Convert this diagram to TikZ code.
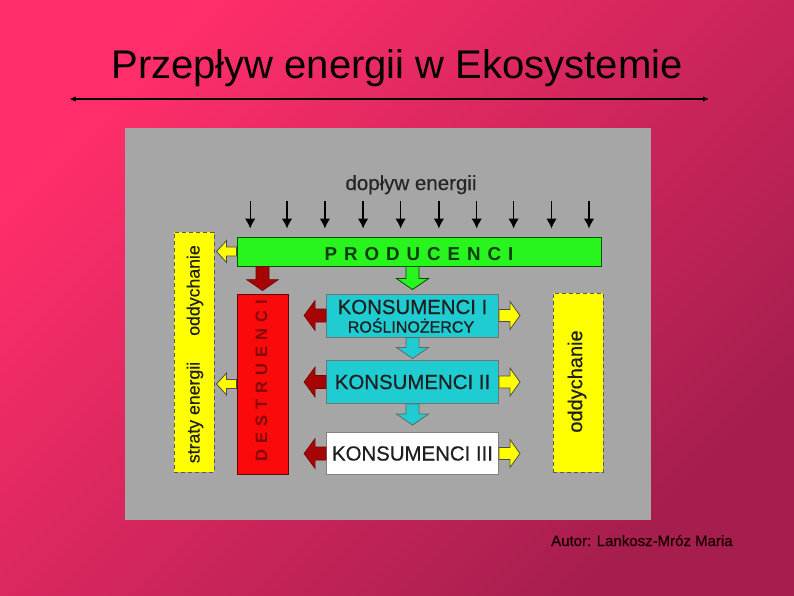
\documentclass[tikz,border=0pt]{standalone}
\usepackage{fontspec}
\setmainfont{Liberation Sans}
\usetikzlibrary{calc,arrows.meta}
\definecolor{bgA}{RGB}{255,46,106}
\definecolor{bgB}{RGB}{165,30,78}
\definecolor{panelgray}{RGB}{166,166,166}
\definecolor{prodgreen}{RGB}{40,245,30}
\definecolor{kcyan}{RGB}{30,204,210}
\definecolor{dred}{RGB}{250,10,10}
\definecolor{arrred}{RGB}{165,5,5}
\definecolor{yel}{RGB}{255,255,0}
\definecolor{txtgreen}{RGB}{10,60,10}
\definecolor{txtred}{RGB}{130,10,10}
\newcommand\fsz[1]{\fontsize{#1}{#1}\selectfont}
\newcommand\fb[1]{\addfontfeature{FakeBold=#1}}
% block arrow: style, start, end, shaft half width, head half width, head length
\newcommand\blockarrow[6]{%
  \path (#2) coordinate (ba-s) (#3) coordinate (ba-e);
  \path ($(ba-e)!#6!(ba-s)$) coordinate (ba-h);
  \draw[#1] ($(ba-s)!#4!90:(ba-e)$) -- ($(ba-h)!#4!90:(ba-e)$) -- ($(ba-h)!#5!90:(ba-e)$)
    -- (ba-e) -- ($(ba-h)!#5!-90:(ba-e)$) -- ($(ba-h)!#4!-90:(ba-e)$) -- ($(ba-s)!#4!-90:(ba-e)$) -- cycle;
}
\tikzset{
  box/.style={draw, line width=0.9pt, inner sep=0pt},
  ybox/.style={box, fill=yel, draw=black!65, dash pattern=on 4pt off 3pt, line width=1pt},
  kbox/.style={box, fill=kcyan, draw=black!55, minimum width=172pt, font=\fsz{20.4}\fb{0.6}, text=black!88},
  redarrow/.style={fill=arrred, draw=arrred!70!black, line width=0.6pt},
  yelarrow/.style={fill=yel, draw=black!70, line width=0.8pt},
  grnarrow/.style={fill=prodgreen, draw=green!30!black, line width=0.8pt},
  cyanarrow/.style={fill=kcyan, draw=black!60, line width=0.8pt},
  inarrow/.style={line width=1.3pt, -{Latex[length=10pt,width=10.5pt]}},
}
\begin{document}
\begin{tikzpicture}[x=1pt,y=-1pt]
\shade[top color=bgA,bottom color=bgB,shading angle=45] (0,0) rectangle (794,595);
\useasboundingbox (0,0) rectangle (794,595);
\node[anchor=base, font=\fsz{40}, text=black] (title) at (397,78) {Przepływ energii w Ekosystemie};
\coordinate (tl) at (69.5,99);
\coordinate (tr) at (709,99);
\draw[line width=1.7pt, {Latex[length=6pt,width=5.5pt]}-{Latex[length=6pt,width=5.5pt]}] (tl) -- (tr);

\node[fill=panelgray, minimum width=526pt, minimum height=392pt, inner sep=0pt, anchor=north west] (panel) at (125,128) {};

\node[anchor=base, font=\fsz{20.5}\fb{0.3}, text=black!85] (dop) at (411,190) {dopływ energii};

% boxes
\node[box, fill=prodgreen, draw=green!35!black, minimum width=364pt, minimum height=29pt] (prod) at (419,251.5) {};
\node[font=\fsz{18.7}\bfseries, text=txtgreen, inner sep=0pt] (prodt) at (419,254) {P\kern7pt R\kern7pt O\kern7pt D\kern7pt U\kern7pt C\kern7pt E\kern7pt N\kern7pt C\kern7pt I};

\node[box, fill=dred, draw=arrred!60!black, minimum width=51pt, minimum height=180pt] (dest) at (262.5,384) {};
\node[rotate=90, font=\fsz{16.5}\bfseries, text=txtred, inner sep=0pt] (destt) at (261.5,381) {D\kern6pt E\kern6pt S\kern6pt T\kern6pt R\kern6pt U\kern6pt E\kern6pt N\kern6pt C\kern6pt I};

\node[kbox, minimum height=43pt] (k1) at (412.5,315.5) {};
\node[anchor=base, font=\fsz{20.4}\fb{0.6}, text=black!88, inner sep=0pt] (k1t) at (412.5,314) {KONSUMENCI I};
\node[anchor=base, font=\fsz{16}\fb{0.6}, text=black!88, inner sep=0pt] (k1s) at (411,332.5) {ROŚLINOŻERCY};
\node[kbox, minimum height=43pt] (k2) at (412.5,382) {KONSUMENCI II};
\node[kbox, fill=white, draw=black!50, minimum height=42pt] (k3) at (412.5,453.5) {KONSUMENCI III};

\node[ybox, minimum width=40pt, minimum height=240pt] (yl) at (194,352) {};
\node[rotate=90, font=\fsz{17.7}\fb{0.4}, text=black!88, inner sep=0pt] (ylt1) at (195,290.5) {oddychanie};
\node[rotate=90, font=\fsz{17.7}\fb{0.4}, text=black!88, inner sep=0pt] (ylt2) at (195,412.5) {straty energii};
\node[ybox, minimum width=50pt, minimum height=179pt] (yr) at (578,382.5) {};
\node[rotate=90, font=\fsz{20}\fb{0.4}, text=black!88, inner sep=0pt] (yrt) at (577,381.5) {oddychanie};

% energy input arrows
\foreach \i/\x in {1/250.2,2/287,3/324.9,4/363.1,5/400.6,6/438.9,7/476.7,8/513.6,9/551.5,10/589}{
  \coordinate (in\i) at (\x,201);
  \draw[inarrow] (in\i) -- ($(in\i |- prod.north)+(0,-8)$);
}

% block arrows
\blockarrow{redarrow}{prod.south -| dest.north}{$(dest.north)+(0,-3)$}{6.5pt}{16pt}{11pt}
\blockarrow{grnarrow}{prod.south -| k1.north}{$(k1.north)+(0,-4)$}{6.5pt}{16pt}{11pt}
\blockarrow{cyanarrow}{k1.south}{$(k2.north)+(0,-1.5)$}{6.5pt}{16pt}{11pt}
\blockarrow{cyanarrow}{k2.south}{$(k3.north)+(0,-7)$}{6.5pt}{16pt}{11pt}

\foreach \k in {k1,k2,k3}{
  \coordinate (rl-\k) at ($(\k.west)+(-22,0)$);
  \coordinate (yr-\k) at ($(\k.east)+(21,0)$);
}
\blockarrow{redarrow}{k1.west}{rl-k1}{6.5pt}{15pt}{11pt}
\blockarrow{redarrow}{k2.west}{rl-k2}{6.5pt}{15pt}{11pt}
\blockarrow{redarrow}{k3.west}{rl-k3}{6.5pt}{15pt}{11pt}
\blockarrow{yelarrow}{k1.east}{yr-k1}{6pt}{14pt}{10pt}
\blockarrow{yelarrow}{k2.east}{yr-k2}{6pt}{14pt}{10pt}
\blockarrow{yelarrow}{k3.east}{yr-k3}{6pt}{14pt}{10pt}

\coordinate (yl-p) at ($(prod.west)+(-20,0)$);
\coordinate (yl-d) at ($(dest.west)+(-20,0)$);
\blockarrow{yelarrow}{prod.west}{yl-p}{4.5pt}{11pt}{10pt}
\blockarrow{yelarrow}{dest.west}{yl-d}{4.5pt}{11pt}{10pt}

\node[anchor=base west, font=\fsz{15}\fb{0.6}, text=black!90!red, inner sep=0pt] (author) at (551,546) {Autor: Lankosz-Mróz Maria};
\end{tikzpicture}
\end{document}
